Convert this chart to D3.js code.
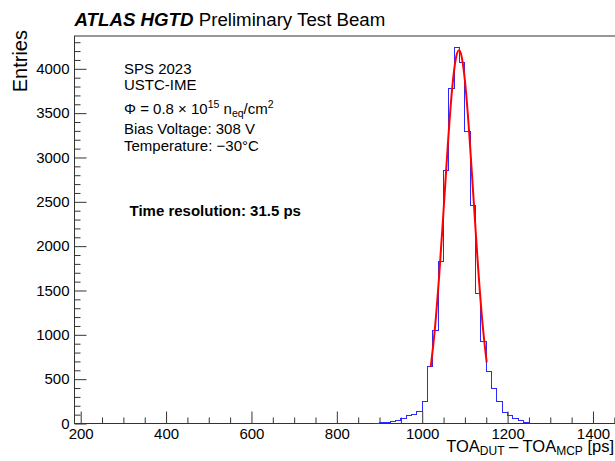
<!DOCTYPE html>
<html>
<head>
<meta charset="utf-8">
<script src="https://cdn.jsdelivr.net/npm/d3@7"></script>
<style>
  body { margin: 0; background: #fff; }
  svg { display: block; font-family: "Liberation Sans", Arial, Helvetica, sans-serif; }
  .tick text { font-size: 15px; fill: #000; }
  .tick line { stroke: #333; }
</style>
</head>
<body>
<svg id="chart" width="615" height="461"></svg>
<script>
// histogram: lower bin edges (ps), bin width 12.5 ps
var binLow = [887.5, 900, 912.5, 925, 937.5, 950, 962.5, 975, 987.5, 1000,
  1012.5, 1025, 1037.5, 1050, 1062.5, 1075, 1087.5, 1100, 1112.5, 1125,
  1137.5, 1150, 1162.5, 1175, 1187.5, 1200, 1212.5, 1225, 1237.5];
var counts = [4, 8, 15, 25, 35, 58, 85, 105, 140, 243,
  646, 1054, 1822, 2849, 3776, 4237, 4075, 3291, 2464, 1463,
  922, 590, 395, 250, 125, 90, 55, 30, 12];
var binWidth = 12.5;

// red fit curve
var fitX = [1020, 1030, 1040, 1050, 1060, 1070, 1080, 1086, 1090, 1100, 1110, 1120, 1130, 1140, 1151];
var fitY = [640, 1085, 1686, 2402, 3143, 3770, 4145, 4210, 4181, 3868, 3283, 2553, 1822, 1193, 690];

var xMajor = [200, 400, 600, 800, 1000, 1200, 1400];
var yMajor = [0, 500, 1000, 1500, 2000, 2500, 3000, 3500, 4000];

var svg = d3.select('#chart');

// frame edges (right edge runs off the canvas, as in the reference)
var frameL = 74.5, frameR = 625, frameT = 36, frameB = 423.5;

var x = d3.scaleLinear().domain([185.5, 1475]).range([frameL, frameR]);
var y = d3.scaleLinear().domain([0, 4370]).range([frameB, frameT]);

//minor ticks
var xMinor = d3.range(200, 1460, 50).filter(function(v) { return xMajor.indexOf(v) < 0; });
var yMinor = d3.range(0, 4370, 100).filter(function(v) { return yMajor.indexOf(v) < 0; });

svg.append('g')
    .attr('transform', 'translate(0,' + frameB + ')')
    .call(d3.axisBottom(x).tickValues(xMinor).tickSizeInner(-6).tickSizeOuter(0).tickFormat(''))
    .call(function(g) { g.select('.domain').remove(); });

svg.append('g')
    .attr('transform', 'translate(0,' + frameB + ')')
    .call(d3.axisBottom(x).tickValues(xMajor).tickSizeInner(-12).tickSizeOuter(0).tickPadding(4.5).tickFormat(d3.format('d')))
    .call(function(g) { g.select('.domain').remove(); });

svg.append('g')
    .attr('transform', 'translate(' + frameL + ',0)')
    .call(d3.axisLeft(y).tickValues(yMinor).tickSizeInner(-6).tickSizeOuter(0).tickFormat(''))
    .call(function(g) { g.select('.domain').remove(); });

svg.append('g')
    .attr('transform', 'translate(' + frameL + ',0)')
    .call(d3.axisLeft(y).tickValues(yMajor).tickSizeInner(-12).tickSizeOuter(0).tickPadding(5).tickFormat(d3.format('d')))
    .call(function(g) { g.select('.domain').remove(); });

//frame
svg.append('rect')
    .attr('x', frameL)
    .attr('y', frameT)
    .attr('width', frameR - frameL)
    .attr('height', frameB - frameT)
    .attr('fill', 'none')
    .attr('stroke', '#333')
    .attr('stroke-width', 1);

//histogram outline
var steps = [[binLow[0], 0]];
binLow.forEach(function(lo, i) { steps.push([lo, counts[i]]); });
steps.push([binLow[binLow.length - 1] + binWidth, 0]);

svg.append('path')
    .datum(steps)
    .attr('fill', 'none')
    .attr('stroke', '#2a2aff')
    .attr('stroke-width', 1)
    .attr('shape-rendering', 'crispEdges')
    .attr('d', d3.line()
        .x(function(d) { return x(d[0]); })
        .y(function(d) { return y(d[1]); })
        .curve(d3.curveStepAfter));

//fit
svg.append('path')
    .datum(d3.zip(fitX, fitY))
    .attr('fill', 'none')
    .attr('stroke', '#ff0000')
    .attr('stroke-width', 2)
    .attr('d', d3.line()
        .x(function(d) { return x(d[0]); })
        .y(function(d) { return y(d[1]); })
        .curve(d3.curveMonotoneX));

//title
var title = svg.append('text')
    .attr('x', 74.5)
    .attr('y', 25.5)
    .attr('font-size', 18.7);
title.append('tspan').attr('font-weight', 'bold').attr('font-style', 'italic').text('ATLAS HGTD');
title.append('tspan').text(' Preliminary Test Beam');

//axis titles
svg.append('text')
    .attr('transform', 'translate(26.5,30) rotate(-90)')
    .attr('text-anchor', 'end')
    .attr('font-size', 20)
    .text('Entries');

var xt = svg.append('text')
    .attr('x', 614)
    .attr('y', 452)
    .attr('text-anchor', 'end')
    .attr('font-size', 16.5);
xt.append('tspan').text('TOA');
xt.append('tspan').attr('font-size', 12).attr('dy', 3).text('DUT');
xt.append('tspan').attr('dy', -3).text(' \u2013 TOA');
xt.append('tspan').attr('font-size', 12).attr('dy', 3).text('MCP');
xt.append('tspan').attr('dy', -3).text(' [ps]');

//labels
var info = svg.append('g').attr('font-size', 15);
info.append('text').attr('x', 124).attr('y', 73.5).text('SPS 2023');
info.append('text').attr('x', 124).attr('y', 90).text('USTC-IME');

var phi = info.append('text').attr('x', 124).attr('y', 113.5);
phi.append('tspan').text('\u03A6 = 0.8 \u00D7 10');
phi.append('tspan').attr('font-size', 10.5).attr('dy', -6).text('15');
phi.append('tspan').attr('dy', 6).text(' n');
phi.append('tspan').attr('font-size', 10.5).attr('dy', 3).text('eq');
phi.append('tspan').attr('dy', -3).text('/cm');
phi.append('tspan').attr('font-size', 10.5).attr('dy', -6).text('2');

info.append('text').attr('x', 124).attr('y', 133.5).text('Bias Voltage: 308 V');
info.append('text').attr('x', 124).attr('y', 150.5).text('Temperature: \u221230\u00B0C');

info.append('text')
    .attr('x', 129.5)
    .attr('y', 215.5)
    .attr('font-weight', 'bold')
    .text('Time resolution: 31.5 ps');
</script>
</body>
</html>
